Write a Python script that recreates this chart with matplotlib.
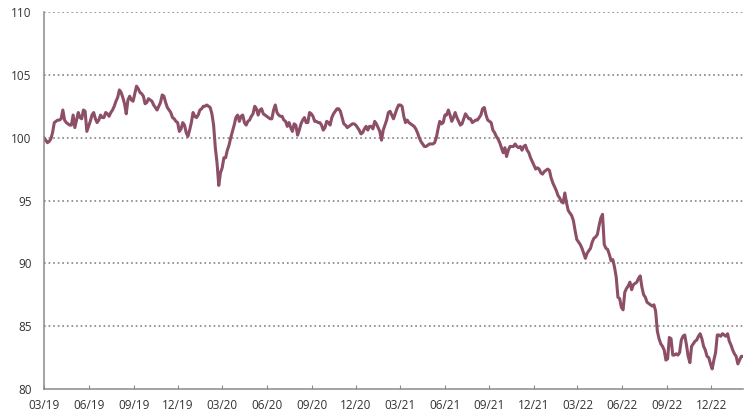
import matplotlib
matplotlib.use("Agg")
import matplotlib.pyplot as plt
import matplotlib.dates as mdates
import pandas as pd

START = "2019-03-01"
END = "2023-02-04"

# half-weekly readings
values = [
    100.0, 99.8, 99.6, 99.7, 99.9, 100.4, 101.2, 101.3, 101.4, 101.4,
    101.5, 102.2, 101.4, 101.2, 101.1, 101.0, 101.0, 101.8, 100.8, 101.4,
    102.0, 101.6, 101.5, 102.2, 102.1, 100.5, 100.9, 101.3, 101.8, 102.0,
    101.5, 101.2, 101.4, 101.8, 101.6, 101.6, 102.0, 101.9, 101.7, 102.0,
    102.2, 102.5, 102.9, 103.2, 103.8, 103.6, 103.2, 102.7, 101.9, 103.0,
    103.3, 103.0, 102.9, 103.5, 104.1, 103.9, 103.6, 103.5, 103.3, 102.7,
    102.8, 103.1, 103.0, 102.9, 102.6, 102.4, 102.2, 102.5, 102.8, 103.4,
    103.3, 102.8, 102.4, 102.2, 102.0, 101.6, 101.5, 101.3, 101.2, 100.5,
    100.7, 101.2, 101.0, 100.4, 100.1, 100.6, 101.2, 102.0, 101.7, 101.6,
    101.8, 102.2, 102.3, 102.5, 102.5, 102.6, 102.5, 102.4, 101.9, 101.0,
    99.2, 98.0, 96.2, 97.2, 97.6, 98.4, 98.4, 99.0, 99.4, 100.0,
    100.5, 101.0, 101.6, 101.8, 101.3, 101.7, 101.8, 101.2, 101.0, 101.3,
    101.4, 101.7, 101.9, 102.5, 102.3, 101.8, 102.2, 102.3, 101.9, 101.8,
    101.7, 101.6, 101.5, 101.5, 102.2, 102.6, 102.0, 101.8, 101.7, 101.7,
    101.4, 101.3, 100.9, 101.2, 100.8, 100.5, 101.1, 101.0, 100.2, 100.6,
    101.1, 101.4, 101.6, 101.2, 101.2, 102.0, 101.9, 101.7, 101.3, 101.3,
    101.2, 101.2, 101.0, 100.6, 100.8, 101.3, 101.2, 101.0, 101.6, 101.9,
    102.1, 102.3, 102.3, 102.1, 101.6, 101.1, 101.0, 100.8, 100.9, 101.0,
    101.1, 101.1, 101.0, 100.8, 100.6, 100.3, 100.4, 100.7, 100.9, 100.6,
    100.9, 100.9, 100.7, 101.3, 101.1, 100.8, 100.5, 99.8, 100.6, 101.0,
    101.4, 102.0, 102.1, 101.8, 101.5, 101.9, 102.3, 102.6, 102.6, 102.5,
    101.7, 101.2, 101.4, 101.2, 101.1, 101.0, 100.9, 100.7, 100.4, 100.0,
    99.7, 99.5, 99.3, 99.3, 99.4, 99.5, 99.5, 99.5, 99.6, 100.0,
    100.7, 101.3, 101.1, 101.2, 101.8, 101.8, 102.2, 101.8, 101.3, 101.6,
    102.0, 101.6, 101.3, 101.0, 101.1, 101.5, 101.9, 101.7, 101.5, 101.5,
    101.2, 101.3, 101.4, 101.4, 101.6, 101.8, 102.3, 102.4, 101.8, 101.4,
    101.3, 101.2, 100.6, 100.4, 100.1, 99.9, 99.6, 99.2, 98.8, 99.2,
    98.5, 99.0, 99.3, 99.3, 99.3, 99.5, 99.3, 99.2, 99.3, 99.0,
    99.3, 99.4, 99.0, 98.8, 98.4, 98.1, 97.8, 97.5, 97.6, 97.5,
    97.2, 97.1, 97.3, 97.4, 97.5, 97.4, 96.8, 96.4, 96.1, 95.8,
    95.4, 95.2, 94.9, 94.8, 95.6, 94.8, 94.2, 94.0, 93.8, 93.4,
    92.6, 91.9, 91.7, 91.5, 91.2, 90.8, 90.4, 90.8, 91.0, 91.2,
    91.7, 92.0, 92.1, 92.3, 93.0, 93.6, 93.9, 91.5, 91.2, 91.1,
    90.7, 90.2, 90.3, 89.7, 88.9, 87.3, 87.2, 86.5, 86.3, 87.7,
    88.0, 88.2, 88.5, 87.9, 88.3, 88.4, 88.5, 88.8, 89.0, 88.1,
    87.5, 87.3, 86.9, 86.8, 86.7, 86.6, 86.7, 86.2, 84.6, 84.0,
    83.6, 83.4, 83.1, 82.3, 82.4, 84.1, 84.0, 82.7, 82.7, 82.8,
    82.7, 82.9, 83.9, 84.2, 84.3, 83.5, 82.6, 82.1, 83.4, 83.6,
    83.8, 83.9, 84.2, 84.4, 84.0, 83.4, 83.1, 82.6, 82.5, 82.0,
    81.6, 82.3, 82.9, 84.3, 84.3, 84.2, 84.4, 84.3, 84.2, 84.4,
    83.8, 83.5, 83.1, 82.8, 82.6, 82.0, 82.3, 82.6, 82.6,
]
dates = pd.date_range(START, END, periods=len(values))

y_ticks = [80, 85, 90, 95, 100, 105, 110]
LINE = "#8C4F67"
GREY = "#8a8a8a"
TEXT = "#333333"

plt.rcParams["font.family"] = ["Open Sans", "DejaVu Sans"]

fig = plt.figure(figsize=(7.44, 4.12), dpi=100)
ax = fig.add_axes([44 / 744, 23 / 412, 699 / 744, 377 / 412])

ax.plot(dates, values, color=LINE, lw=2.2, solid_joinstyle="round")

ax.set_ylim(80, 110)
ax.set_yticks(y_ticks)
ax.set_xlim(pd.Timestamp(START), pd.Timestamp(END))
ax.xaxis.set_major_locator(mdates.MonthLocator(bymonth=[3, 6, 9, 12]))
ax.xaxis.set_major_formatter(mdates.DateFormatter("%m/%y"))

for y in y_ticks[1:]:
    ax.axhline(y, color="#7a7a7a", lw=1.1, ls=(0, (1.1, 1.9)), zorder=0)

for s in ("top", "right"):
    ax.spines[s].set_visible(False)
for s in ("left", "bottom"):
    ax.spines[s].set_color(GREY)
    ax.spines[s].set_linewidth(1.1)

ax.tick_params(axis="x", direction="in", length=3, color=GREY, pad=7,
               labelsize=8.5, labelcolor=TEXT)
ax.tick_params(axis="y", length=0, pad=9, labelsize=8.5, labelcolor=TEXT)

fig.savefig("out.png", dpi=100)
